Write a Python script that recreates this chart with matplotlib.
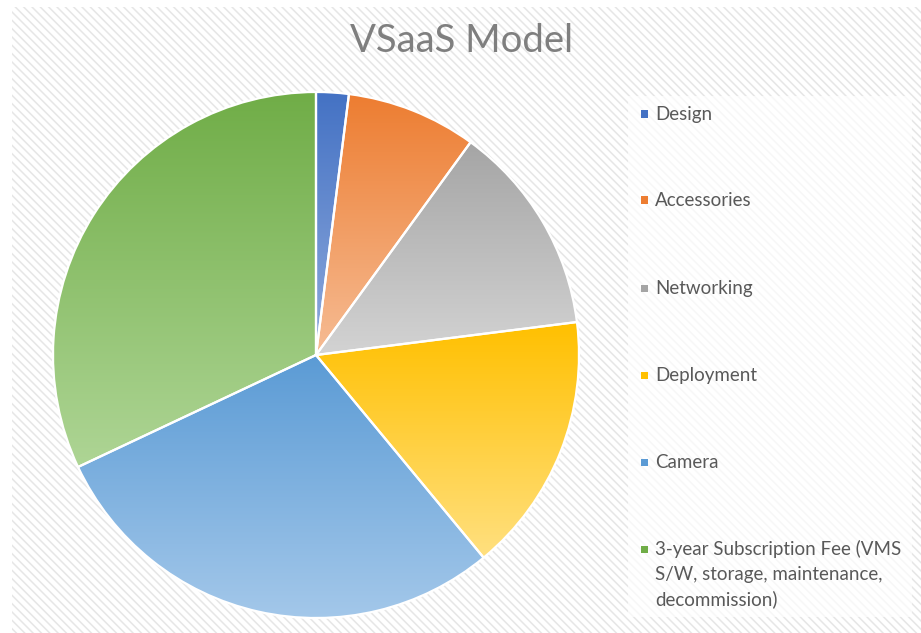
import numpy as np
import matplotlib.pyplot as plt
from matplotlib.patches import Rectangle
from matplotlib.colors import LinearSegmentedColormap

# DATA
LABELS = [
    "Design",
    "Accessories",
    "Networking",
    "Deployment",
    "Camera",
    "3-year Subscription Fee (VMS\nS/W, storage, maintenance,\ndecommission)",
]
VALUES = [2, 8, 13, 16, 29, 32]

# couleurs haut -> bas du dégradé
TOP_COLORS = ["#4472C4", "#ED7D31", "#A5A5A5", "#FFC000", "#5B9BD5", "#70AD47"]
BOTTOM_COLORS = ["#8FAADC", "#F6BC94", "#D3D3D3", "#FFE080", "#A4C8EA", "#AED595"]

W, H = 921, 633
plt.rcParams["font.family"] = ["Lato", "DejaVu Sans"]
plt.rcParams["hatch.linewidth"] = 1.1


def fx(px):
    return px / W


def fy(py):
    return 1 - py / H


fig = plt.figure(figsize=(W / 100, H / 100), dpi=100)
fig.patch.set_facecolor("white")

# fond hachuré de la zone du graphique
bg = Rectangle((fx(12), 0), 1, fy(7), transform=fig.transFigure,
               facecolor="white", edgecolor="#e6e6e6", linewidth=0,
               hatch="\\\\\\\\", zorder=0)
fig.add_artist(bg)

# zone de légende (plus claire)
leg_box = Rectangle((fx(628), fy(617)), fx(912) - fx(628), fy(96) - fy(617),
                    transform=fig.transFigure, facecolor="white", alpha=0.7,
                    edgecolor="none", zorder=1)
fig.add_artist(leg_box)

# camembert
cx, cy, r = 316, 355, 263
ax = fig.add_axes([fx(cx - r), fy(cy + r), fx(2 * r), (2 * r) / H])
ax.set_facecolor("none")
wedges, _ = ax.pie(VALUES, startangle=90, counterclock=False, radius=1,
                   wedgeprops=dict(edgecolor="white", linewidth=1.6))

for w, c_top, c_bot in zip(wedges, TOP_COLORS, BOTTOM_COLORS):
    w.set_facecolor("none")
    verts = w.get_path().vertices
    x0, x1 = verts[:, 0].min(), verts[:, 0].max()
    y0, y1 = verts[:, 1].min(), verts[:, 1].max()
    cmap = LinearSegmentedColormap.from_list("g", [c_bot, c_top])
    grad = np.linspace(0, 1, 256).reshape(-1, 1)
    im = ax.imshow(grad, cmap=cmap, extent=(x0, x1, y0, y1), origin="lower",
                   aspect="auto", zorder=0.5, interpolation="bilinear")
    im.set_clip_path(w)
    w.set_zorder(1)

ax.set_xlim(-1, 1)
ax.set_ylim(-1, 1)
ax.set_aspect("auto")
ax.axis("off")

# titre
fig.text(fx(462), fy(52), "VSaaS Model", ha="center", va="baseline",
         fontsize=27.5, color="#7f7f7f")

# légende manuelle
LEG_Y = [114, 200, 288, 375, 462, 549]
for label, color, y in zip(LABELS, TOP_COLORS, LEG_Y):
    sq = Rectangle((fx(641), fy(y + 3.5)), fx(7), 7 / H,
                   transform=fig.transFigure, facecolor=color,
                   edgecolor="none", zorder=3)
    fig.add_artist(sq)
    for k, line in enumerate(label.split("\n")):
        fig.text(fx(655), fy(y + 6 + 25 * k), line, ha="left", va="baseline",
                 fontsize=13.5, color="#595959", zorder=3)

plt.savefig("out.png", dpi=100)
